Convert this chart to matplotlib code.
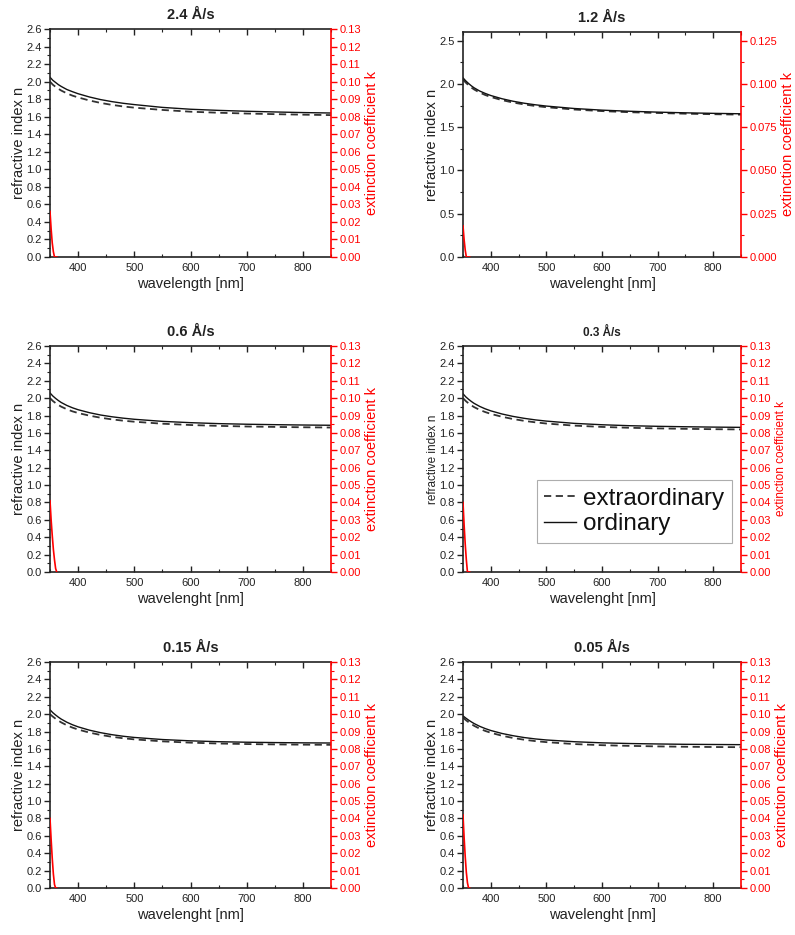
import numpy as np
import matplotlib
matplotlib.use("Agg")
import matplotlib.pyplot as plt
from matplotlib.ticker import MultipleLocator, FormatStrFormatter

plt.rcParams['font.family'] = ['Liberation Sans', 'DejaVu Sans']

# wavelength grid for n curves (nm)
wl = [350, 355, 360, 365, 370, 380, 390, 400, 420, 440, 460, 480, 500, 550, 600, 650, 700, 750, 800, 850]

titles = ["2.4 Å/s", "1.2 Å/s", "0.6 Å/s", "0.3 Å/s", "0.15 Å/s", "0.05 Å/s"]
xlabels = ["wavelength [nm]", "wavelenght [nm]", "wavelenght [nm]",
           "wavelenght [nm]", "wavelenght [nm]", "wavelenght [nm]"]

n_ord_24 = [2.05, 2.015, 1.99, 1.965, 1.945, 1.91, 1.885, 1.862, 1.825, 1.795, 1.772, 1.753, 1.738, 1.706, 1.685, 1.672, 1.662, 1.654, 1.647, 1.642]
n_ext_24 = [2.00, 1.965, 1.94, 1.918, 1.898, 1.866, 1.84, 1.82, 1.785, 1.757, 1.735, 1.717, 1.703, 1.677, 1.657, 1.645, 1.636, 1.629, 1.623, 1.618]

n_ord_12 = [2.07, 2.035, 2.005, 1.978, 1.955, 1.918, 1.89, 1.866, 1.829, 1.80, 1.777, 1.759, 1.744, 1.716, 1.697, 1.684, 1.674, 1.666, 1.66, 1.655]
n_ext_12 = [2.05, 2.015, 1.985, 1.958, 1.936, 1.90, 1.872, 1.849, 1.813, 1.785, 1.763, 1.745, 1.731, 1.704, 1.686, 1.673, 1.664, 1.656, 1.65, 1.645]

n_ord_06 = [2.06, 2.025, 1.997, 1.972, 1.95, 1.916, 1.889, 1.867, 1.833, 1.806, 1.786, 1.77, 1.757, 1.733, 1.718, 1.707, 1.70, 1.695, 1.691, 1.688]
n_ext_06 = [2.00, 1.968, 1.943, 1.921, 1.902, 1.872, 1.848, 1.829, 1.799, 1.775, 1.756, 1.741, 1.729, 1.706, 1.691, 1.681, 1.674, 1.669, 1.665, 1.662]

n_ord_03 = [2.05, 2.015, 1.987, 1.962, 1.94, 1.905, 1.877, 1.854, 1.818, 1.79, 1.768, 1.75, 1.736, 1.71, 1.694, 1.683, 1.676, 1.671, 1.667, 1.664]
n_ext_03 = [2.00, 1.967, 1.94, 1.917, 1.897, 1.865, 1.84, 1.819, 1.786, 1.76, 1.739, 1.722, 1.708, 1.684, 1.669, 1.659, 1.652, 1.647, 1.643, 1.64]

n_ord_015 = [2.05, 2.017, 1.99, 1.965, 1.943, 1.907, 1.878, 1.854, 1.816, 1.787, 1.764, 1.746, 1.732, 1.708, 1.693, 1.683, 1.677, 1.673, 1.67, 1.668]
n_ext_015 = [2.00, 1.972, 1.947, 1.925, 1.905, 1.872, 1.845, 1.823, 1.788, 1.761, 1.74, 1.723, 1.71, 1.687, 1.672, 1.662, 1.656, 1.652, 1.649, 1.647]

n_ord_005 = [1.98, 1.955, 1.932, 1.911, 1.892, 1.86, 1.834, 1.812, 1.778, 1.752, 1.731, 1.715, 1.703, 1.683, 1.67, 1.662, 1.657, 1.653, 1.651, 1.649]
n_ext_005 = [1.96, 1.932, 1.908, 1.886, 1.866, 1.833, 1.807, 1.786, 1.752, 1.726, 1.706, 1.69, 1.678, 1.656, 1.643, 1.635, 1.629, 1.625, 1.622, 1.62]

# extinction coefficient near the absorption edge
wl_k = [350, 352, 354, 356, 358, 360, 362]
k_24 = [0.026, 0.016, 0.008, 0.003, 0.0, 0.0, 0.0]
k_12 = [0.018, 0.010, 0.004, 0.0, 0.0, 0.0, 0.0]
k_06 = [0.041, 0.030, 0.021, 0.013, 0.007, 0.002, 0.0]
k_03 = [0.040, 0.027, 0.016, 0.007, 0.0, 0.0, 0.0]
k_015 = [0.040, 0.028, 0.017, 0.008, 0.002, 0.0, 0.0]
k_005 = [0.042, 0.029, 0.018, 0.009, 0.003, 0.0, 0.0]

n_ord = [n_ord_24, n_ord_12, n_ord_06, n_ord_03, n_ord_015, n_ord_005]
n_ext = [n_ext_24, n_ext_12, n_ext_06, n_ext_03, n_ext_015, n_ext_005]
k_all = [k_24, k_12, k_06, k_03, k_015, k_005]

W, H = 795, 935
fig = plt.figure(figsize=(W / 100, H / 100), dpi=100)

# axes boxes in pixels: left, top, right, bottom
boxes = [(50, 29, 331, 257), (463, 32, 741, 257),
         (50, 346, 331, 572), (463, 346, 741, 572),
         (50, 662, 331, 888), (463, 662, 741, 888)]

dark = '#222222'
for i, (l, t, r, b) in enumerate(boxes):
    ax = fig.add_axes([l / W, (H - b) / H, (r - l) / W, (b - t) / H])
    ax2 = ax.twinx()
    small = (i == 3)
    lab_fs = 8.5 if small else 10.5
    title_fs = 8.5 if small else 10.5

    ax.plot(wl, n_ext[i], color='#333333', lw=1.3, ls=(0, (4, 2.5)), label='extraordinary')
    ax.plot(wl, n_ord[i], color='#111111', lw=1.0, label='ordinary')
    ax2.plot(wl_k, k_all[i], color='red', lw=1.2)

    ax.set_xlim(350, 850)
    ax.set_ylim(0, 2.6)
    ax2.set_ylim(0, 0.13)
    ax.xaxis.set_major_locator(MultipleLocator(100))
    ax.xaxis.set_minor_locator(MultipleLocator(50))
    if i == 1:
        ax.yaxis.set_major_locator(MultipleLocator(0.5))
        ax.yaxis.set_minor_locator(MultipleLocator(0.25))
        ax2.yaxis.set_major_locator(MultipleLocator(0.025))
        ax2.yaxis.set_minor_locator(MultipleLocator(0.0125))
        ax2.yaxis.set_major_formatter(FormatStrFormatter('%.3f'))
    else:
        ax.yaxis.set_major_locator(MultipleLocator(0.2))
        ax.yaxis.set_minor_locator(MultipleLocator(0.1))
        ax2.yaxis.set_major_locator(MultipleLocator(0.01))
        ax2.yaxis.set_minor_locator(MultipleLocator(0.005))
        ax2.yaxis.set_major_formatter(FormatStrFormatter('%.2f'))
    ax.yaxis.set_major_formatter(FormatStrFormatter('%.1f'))

    ax.tick_params(axis='x', which='both', direction='in', top=True, labelsize=8, colors=dark, pad=4)
    ax.tick_params(axis='x', which='major', length=4, width=1)
    ax.tick_params(axis='x', which='minor', length=2, width=0.8)
    ax.tick_params(axis='y', which='both', direction='out', labelsize=8, colors=dark, pad=2)
    ax.tick_params(axis='y', which='major', length=4, width=1)
    ax.tick_params(axis='y', which='minor', length=2, width=0.8)
    ax2.tick_params(axis='y', which='both', direction='out', labelsize=8, colors='red', pad=2)
    ax2.tick_params(axis='y', which='major', length=4, width=1)
    ax2.tick_params(axis='y', which='minor', length=2, width=0.8)

    for sp in ['left', 'top', 'bottom']:
        ax.spines[sp].set_linewidth(1.2)
        ax.spines[sp].set_color(dark)
        ax2.spines[sp].set_visible(False)
    ax.spines['right'].set_visible(False)
    ax2.spines['right'].set_color('red')
    ax2.spines['right'].set_linewidth(1.2)

    ax.set_xlabel(xlabels[i], fontsize=10.5, color=dark, labelpad=3)
    ax.set_ylabel('refractive index n', fontsize=lab_fs, color=dark, labelpad=0)
    ax2.set_ylabel('extinction coefficient k', fontsize=lab_fs, color='red', labelpad=3)
    ax.set_title(titles[i], fontsize=title_fs, fontweight='bold', color=dark, pad=7)

    if small:
        h, lbl = ax.get_legend_handles_labels()
        leg = ax.legend(h, lbl, loc='lower left', bbox_to_anchor=(0.266, 0.13),
                        fontsize=17.5, frameon=True, fancybox=False, handlelength=1.3,
                        handletextpad=0.3, labelspacing=0.15, borderpad=0.3,
                        borderaxespad=0)
        leg.get_frame().set_edgecolor('#999999')
        leg.get_frame().set_linewidth(0.8)
        for txt in leg.get_texts():
            txt.set_color('#111111')

fig.savefig('out.png', dpi=100)
